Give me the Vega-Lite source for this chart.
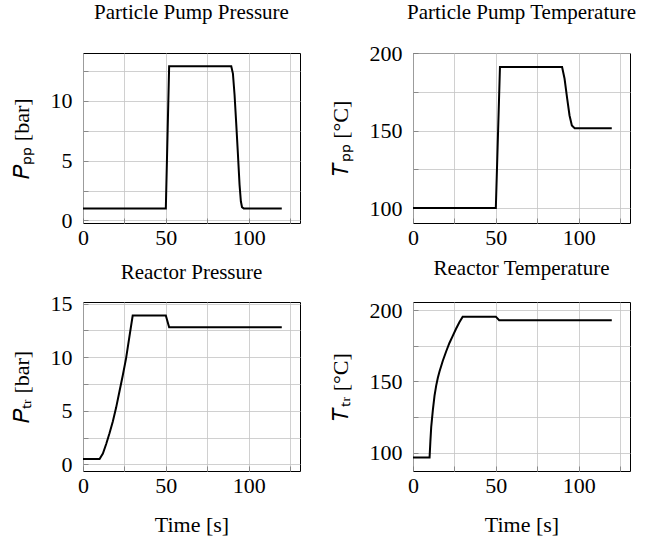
{
  "$schema": "https://vega.github.io/schema/vega-lite/v6.json",
  "padding": {"left": 9, "top": 1, "right": 5, "bottom": 2},
  "background": "white",
  "datasets": {
    "pp": [
      {"t": 0, "v": 1}, {"t": 50, "v": 1}, {"t": 52, "v": 12.9}, {"t": 89.5, "v": 12.9},
      {"t": 90.5, "v": 12.3}, {"t": 91.5, "v": 10.5}, {"t": 92.5, "v": 8.1}, {"t": 93.5, "v": 5.6},
      {"t": 94.5, "v": 3.0}, {"t": 95.3, "v": 1.6}, {"t": 96, "v": 1.1}, {"t": 97, "v": 1}, {"t": 120, "v": 1}
    ],
    "tp": [
      {"t": 0, "v": 100}, {"t": 50, "v": 100}, {"t": 52.5, "v": 191}, {"t": 90, "v": 191},
      {"t": 91.5, "v": 183.4}, {"t": 93.1, "v": 170.5}, {"t": 94.5, "v": 159.7}, {"t": 95.9, "v": 153.2},
      {"t": 97.6, "v": 151.5}, {"t": 120, "v": 151.5}
    ],
    "pr": [
      {"t": 0, "v": 0.5}, {"t": 10, "v": 0.5}, {"t": 12, "v": 1.0}, {"t": 14, "v": 1.9}, {"t": 16, "v": 2.9},
      {"t": 18, "v": 4.0}, {"t": 20, "v": 5.3}, {"t": 22, "v": 6.8}, {"t": 24, "v": 8.3}, {"t": 26, "v": 9.9},
      {"t": 28, "v": 11.9}, {"t": 30, "v": 13.9}, {"t": 50, "v": 13.9}, {"t": 52, "v": 12.8}, {"t": 120, "v": 12.8}
    ],
    "tr": [
      {"t": 0, "v": 96.5}, {"t": 10, "v": 96.5}, {"t": 10.5, "v": 108}, {"t": 11, "v": 118}, {"t": 12, "v": 130},
      {"t": 13, "v": 140}, {"t": 14, "v": 147}, {"t": 15, "v": 152.5}, {"t": 16, "v": 157}, {"t": 18, "v": 164.5},
      {"t": 20, "v": 171}, {"t": 22, "v": 177}, {"t": 24, "v": 182}, {"t": 26, "v": 187}, {"t": 28, "v": 191.5},
      {"t": 30, "v": 195.5}, {"t": 50, "v": 195.5}, {"t": 52, "v": 193}, {"t": 120, "v": 193}
    ]
  },
  "columns": 2,
  "spacing": {"column": 27, "row": 8},
  "concat": [
    {
      "title": {"text": "Particle Pump Pressure", "offset": 30},
      "width": 217, "height": 170,
      "data": {"name": "pp"},
      "mark": {"type": "line", "color": "black", "strokeWidth": 2},
      "encoding": {
        "x": {"field": "t", "type": "quantitative", "scale": {"domain": [0, 131], "nice": false, "zero": false},
              "axis": {"title": null, "values": [0, 25, 50, 75, 100, 125], "labelExpr": "datum.value % 50 === 0 ? datum.label : ''"}},
        "y": {"field": "v", "type": "quantitative", "scale": {"domain": [-0.22, 14.02], "nice": false, "zero": false},
              "axis": {"title": "𝑃ₚₚ [bar]", "values": [0, 2.5, 5, 7.5, 10, 12.5], "labelExpr": "datum.value % 5 === 0 ? datum.label : ''"}}
      }
    },
    {
      "title": {"text": "Particle Pump Temperature", "offset": 19},
      "width": 217, "height": 170,
      "data": {"name": "tp"},
      "mark": {"type": "line", "color": "black", "strokeWidth": 2},
      "encoding": {
        "x": {"field": "t", "type": "quantitative", "scale": {"domain": [0, 131], "nice": false, "zero": false},
              "axis": {"title": null, "values": [0, 25, 50, 75, 100, 125], "labelExpr": "datum.value % 50 === 0 ? datum.label : ''"}},
        "y": {"field": "v", "type": "quantitative", "scale": {"domain": [90.4, 200], "nice": false, "zero": false},
              "axis": {"title": "𝑇ₚₚ [°C]", "values": [100, 125, 150, 175, 200], "labelExpr": "datum.value % 50 === 0 ? datum.label : ''"}}
      }
    },
    {
      "title": {"text": "Reactor Pressure", "offset": 10},
      "width": 217, "height": 169,
      "data": {"name": "pr"},
      "mark": {"type": "line", "color": "black", "strokeWidth": 2},
      "encoding": {
        "x": {"field": "t", "type": "quantitative", "scale": {"domain": [0, 131], "nice": false, "zero": false},
              "axis": {"title": "Time [s]", "values": [0, 25, 50, 75, 100, 125], "labelExpr": "datum.value % 50 === 0 ? datum.label : ''"}},
        "y": {"field": "v", "type": "quantitative", "scale": {"domain": [-0.62, 15.16], "nice": false, "zero": false},
              "axis": {"title": "𝑃ₜᵣ [bar]", "values": [0, 2.5, 5, 7.5, 10, 12.5, 15], "labelExpr": "datum.value % 5 === 0 ? datum.label : ''"}}
      }
    },
    {
      "title": {"text": "Reactor Temperature", "offset": 20},
      "width": 217, "height": 169,
      "data": {"name": "tr"},
      "mark": {"type": "line", "color": "black", "strokeWidth": 2},
      "encoding": {
        "x": {"field": "t", "type": "quantitative", "scale": {"domain": [0, 131], "nice": false, "zero": false},
              "axis": {"title": "Time [s]", "values": [0, 25, 50, 75, 100, 125], "labelExpr": "datum.value % 50 === 0 ? datum.label : ''"}},
        "y": {"field": "v", "type": "quantitative", "scale": {"domain": [87, 205.8], "nice": false, "zero": false},
              "axis": {"title": "𝑇ₜᵣ [°C]", "values": [100, 125, 150, 175, 200], "labelExpr": "datum.value % 50 === 0 ? datum.label : ''"}}
      }
    }
  ],
  "config": {
    "font": "Liberation Serif, Times New Roman, serif",
    "view": {"stroke": "black", "strokeWidth": 1},
    "title": {"font": "Liberation Serif, Times New Roman, serif", "fontSize": 21, "fontWeight": "normal", "color": "black", "anchor": "middle", "frame": "group"},
    "axis": {
      "domain": false,
      "grid": true, "gridColor": "#c4c4c4", "gridWidth": 0.8,
      "ticks": true, "tickSize": -5, "tickColor": "#777777", "tickWidth": 0.8,
      "labelFont": "Liberation Serif, Times New Roman, serif", "labelFontSize": 22, "labelColor": "black",
      "labelOverlap": false, "labelFlush": false,
      "titleFont": "Liberation Serif, Times New Roman, serif", "titleFontSize": 22, "titleFontWeight": "normal", "titleColor": "black"
    },
    "axisX": {"labelPadding": 9, "titlePadding": 18},
    "axisY": {"labelPadding": 16, "titlePadding": 17}
  }
}
